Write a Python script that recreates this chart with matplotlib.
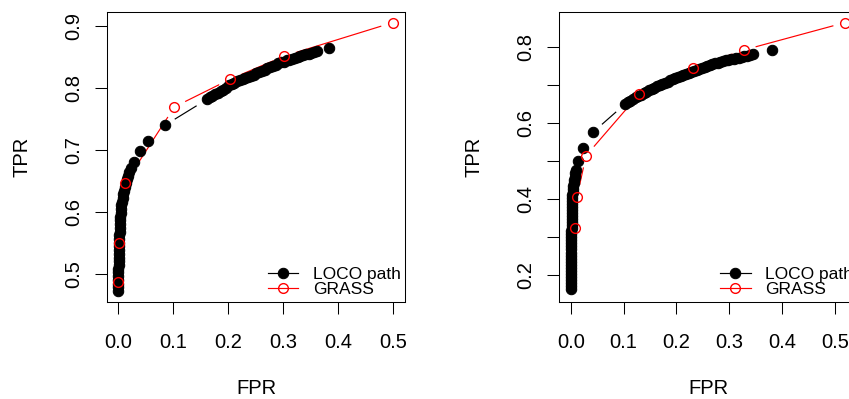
import numpy as np
import matplotlib
matplotlib.use("Agg")
import matplotlib.pyplot as plt
from matplotlib.collections import LineCollection

plt.rcParams['font.family'] = ['Liberation Sans', 'DejaVu Sans']

# ---------------- data: left panel ----------------
loco1_x = [0.000, 0.000, 0.000, 0.000, 0.000, 0.000, 0.0003, 0.0005, 0.0007, 0.0009,
           0.0011, 0.0013, 0.0015, 0.0017, 0.0019, 0.0021, 0.0024, 0.0027, 0.0030, 0.0034,
           0.0038, 0.0043, 0.0050, 0.0058, 0.0068, 0.0080, 0.0093, 0.0107, 0.0122, 0.0138,
           0.0155, 0.0173, 0.0195, 0.0222, 0.029, 0.039, 0.0545, 0.084,
           0.161, 0.166, 0.171, 0.176, 0.181, 0.186, 0.191, 0.196, 0.201, 0.206,
           0.211, 0.216, 0.221, 0.226, 0.231, 0.236, 0.241, 0.246, 0.251, 0.256,
           0.261, 0.266, 0.271, 0.276, 0.281, 0.286, 0.291, 0.296, 0.301, 0.306,
           0.311, 0.316, 0.321, 0.326, 0.331, 0.336, 0.341, 0.346, 0.351, 0.356,
           0.361, 0.383]
loco1_y = [0.473, 0.479, 0.485, 0.491, 0.497, 0.503, 0.509, 0.515, 0.521, 0.527,
           0.533, 0.539, 0.545, 0.551, 0.557, 0.563, 0.569, 0.575, 0.581, 0.587,
           0.593, 0.599, 0.605, 0.611, 0.617, 0.623, 0.629, 0.635, 0.641, 0.647,
           0.653, 0.659, 0.665, 0.672, 0.681, 0.699, 0.7155, 0.740,
           0.782, 0.786, 0.788, 0.791, 0.793, 0.796, 0.798, 0.801, 0.805, 0.807,
           0.809, 0.811, 0.813, 0.815, 0.817, 0.818, 0.820, 0.822, 0.824, 0.826,
           0.828, 0.830, 0.832, 0.834, 0.836, 0.838, 0.840, 0.842, 0.843, 0.845,
           0.846, 0.848, 0.849, 0.851, 0.852, 0.854, 0.855, 0.856, 0.857, 0.859,
           0.860, 0.8655]
grass1_x = [0.000, 0.0013, 0.0125, 0.102, 0.203, 0.302, 0.499]
grass1_y = [0.487, 0.551, 0.647, 0.770, 0.8145, 0.852, 0.906]

# ---------------- data: right panel ----------------
loco2_x = [0.0006, 0.0006, 0.0007, 0.0007, 0.0008, 0.0008, 0.0009, 0.0009, 0.0010, 0.0010,
           0.0011, 0.0011, 0.0012, 0.0012, 0.0013, 0.0013, 0.0014, 0.0014, 0.0015, 0.0015,
           0.0016, 0.0017, 0.0018, 0.0019, 0.0020, 0.0021, 0.0022, 0.0024, 0.0025, 0.0027,
           0.0029, 0.0032, 0.0036, 0.0041, 0.0047, 0.0055, 0.0064, 0.0073, 0.0083, 0.0095,
           0.0144, 0.0230, 0.0420,
           0.103, 0.108, 0.113, 0.118, 0.123, 0.128, 0.133, 0.138, 0.143, 0.148,
           0.153, 0.158, 0.163, 0.168, 0.173, 0.178, 0.183, 0.188, 0.193, 0.198,
           0.203, 0.208, 0.213, 0.218, 0.223, 0.228, 0.233, 0.238, 0.243, 0.248,
           0.253, 0.258, 0.263, 0.268, 0.273, 0.278, 0.283, 0.288, 0.293, 0.298,
           0.303, 0.308, 0.313, 0.318, 0.323, 0.328, 0.333, 0.338, 0.345, 0.381]
loco2_y = [0.164, 0.172, 0.180, 0.188, 0.196, 0.204, 0.212, 0.220, 0.228, 0.236,
           0.244, 0.252, 0.260, 0.268, 0.276, 0.284, 0.292, 0.300, 0.308, 0.316,
           0.324, 0.332, 0.340, 0.348, 0.356, 0.364, 0.372, 0.380, 0.388, 0.396,
           0.404, 0.412, 0.420, 0.428, 0.436, 0.444, 0.452, 0.460, 0.468, 0.477,
           0.5016, 0.535, 0.5763,
           0.651, 0.655, 0.660, 0.664, 0.668, 0.672, 0.675, 0.679, 0.683, 0.687,
           0.691, 0.694, 0.698, 0.701, 0.704, 0.707, 0.710, 0.713, 0.716, 0.718,
           0.721, 0.724, 0.727, 0.730, 0.733, 0.736, 0.738, 0.741, 0.744, 0.746,
           0.749, 0.751, 0.754, 0.756, 0.758, 0.760, 0.762, 0.764, 0.766, 0.767,
           0.769, 0.770, 0.771, 0.773, 0.774, 0.776, 0.777, 0.779, 0.782, 0.793]
grass2_x = [0.0078, 0.0120, 0.0290, 0.1297, 0.2306, 0.3276, 0.5185]
grass2_y = [0.325, 0.407, 0.5148, 0.677, 0.745, 0.793, 0.865]

x_ticks = [0.0, 0.1, 0.2, 0.3, 0.4, 0.5]
y_ticks_left = [0.5, 0.6, 0.7, 0.8, 0.9]
y_ticks_right = [0.2, 0.3, 0.4, 0.5, 0.6, 0.7, 0.8]
y_labels_right = ['0.2', '', '0.4', '', '0.6', '', '0.8']
legend_labels = ['LOCO path', 'GRASS']

W, H = 849, 399
fig = plt.figure(figsize=(W / 100, H / 100), dpi=100)

GAP = 12.0   # px gap of R type="b" lines around points
MS_DOT = 7.5
MS_CIRC = 7.0
LW = 0.85


def gapped(ax, x, y, color):
    pts = ax.transData.transform(np.column_stack([x, y]))
    segs = []
    for p0, p1 in zip(pts[:-1], pts[1:]):
        d = p1 - p0
        L = np.hypot(d[0], d[1])
        if L > 2 * GAP:
            u = d / L
            a = ax.transData.inverted().transform(p0 + u * GAP)
            b = ax.transData.inverted().transform(p1 - u * GAP)
            segs.append([a, b])
    ax.add_collection(LineCollection(segs, colors=color, linewidths=LW, zorder=2))


def panel(rect, xlim, ylim, lx, ly, gx, gy, yticks, ylabels):
    ax = fig.add_axes(rect)
    ax.set_xlim(*xlim)
    ax.set_ylim(*ylim)
    gapped(ax, lx, ly, 'black')
    ax.plot(lx, ly, linestyle='none', marker='o', ms=MS_DOT, mfc='black', mec='black',
            mew=0.75, zorder=3)
    gapped(ax, gx, gy, 'red')
    ax.plot(gx, gy, linestyle='none', marker='o', ms=MS_CIRC, mfc='none', mec='red',
            mew=1.0, zorder=4)
    ax.set_xticks(x_ticks)
    ax.set_xticklabels(['%.1f' % v for v in x_ticks])
    ax.set_yticks(yticks)
    ax.set_yticklabels(ylabels)
    ax.tick_params(axis='both', direction='out', length=8.9, width=0.75,
                   labelsize=14.5, color='black')
    ax.tick_params(axis='x', pad=13.5)
    ax.tick_params(axis='y', pad=8.5, labelrotation=90)
    for lab in ax.get_yticklabels():
        lab.set_va('center')
    for s in ax.spines.values():
        s.set_linewidth(0.75)
    ax.set_xlabel('FPR', fontsize=14.5)
    ax.set_ylabel('TPR', fontsize=14.5)
    ax.xaxis.set_label_coords(0.5, -0.318)
    ax.xaxis.label.set_va('baseline')
    ax.yaxis.set_label_coords(-0.286, 0.5)
    ax.yaxis.label.set_va('center')
    # legend (R bty="n" style)
    tr = ax.transAxes
    ax.plot([0.540, 0.642], [0.100, 0.100], color='black', lw=LW, transform=tr, clip_on=False)
    ax.plot([0.590], [0.100], marker='o', ms=MS_DOT, mfc='black', mec='black', mew=0.75,
            transform=tr, clip_on=False)
    ax.plot([0.540, 0.642], [0.048, 0.048], color='red', lw=LW, transform=tr, clip_on=False)
    ax.plot([0.590], [0.048], marker='o', ms=MS_CIRC, mfc='none', mec='red', mew=1.0,
            transform=tr, clip_on=False)
    ax.text(0.691, 0.081, legend_labels[0], fontsize=12.5, transform=tr, va='baseline',
            ha='left', clip_on=False)
    ax.text(0.691, 0.028, legend_labels[1], fontsize=12.5, transform=tr, va='baseline',
            ha='left', clip_on=False)
    return ax


bottom = 1 - 302 / H
height = 290 / H
width = 298 / W

panel([107 / W, bottom, width, height], (-0.02055, 0.52127), (0.45532, 0.92306),
      loco1_x, loco1_y, grass1_x, grass1_y, y_ticks_left,
      ['%.1f' % v for v in y_ticks_left])
panel([559.3 / W, bottom, width, height], (-0.02155, 0.54178), (0.12974, 0.89290),
      loco2_x, loco2_y, grass2_x, grass2_y, y_ticks_right, y_labels_right)

fig.savefig('out.png', dpi=100)
